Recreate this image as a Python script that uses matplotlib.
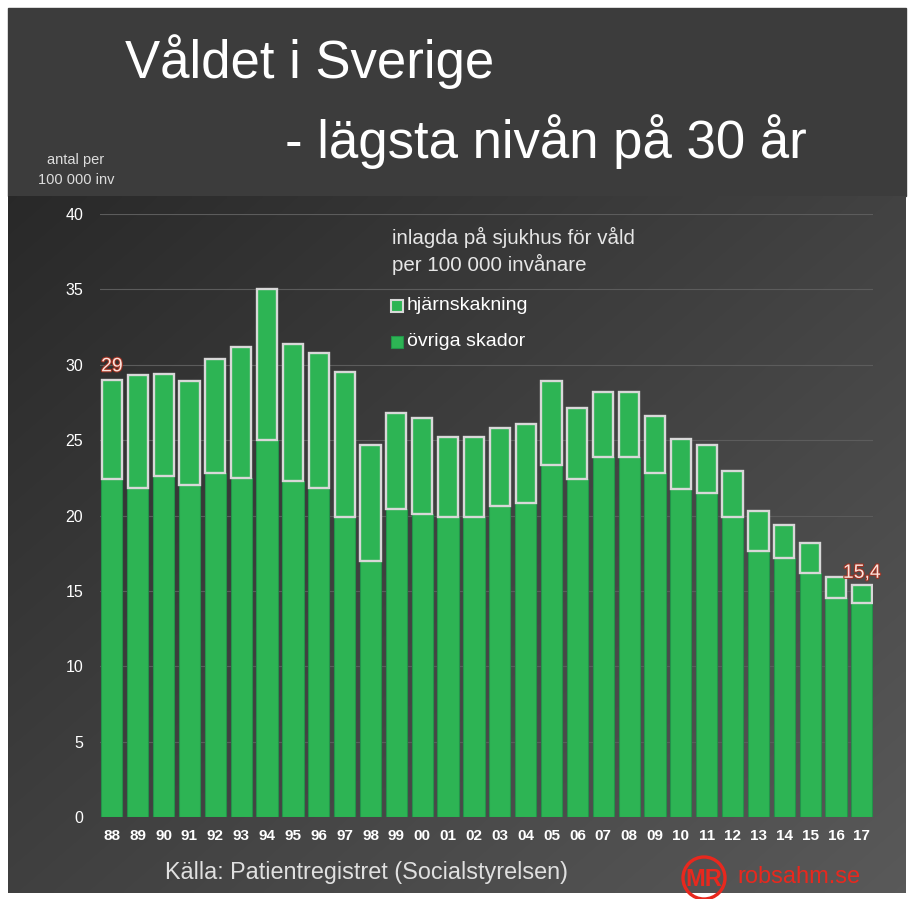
import numpy as np
import matplotlib
matplotlib.use("Agg")
import matplotlib.pyplot as plt
from matplotlib.patches import Rectangle, Circle
import matplotlib.patheffects as pe

plt.rcParams['font.family'] = ['Liberation Sans', 'DejaVu Sans']

years = ['88', '89', '90', '91', '92', '93', '94', '95', '96', '97', '98', '99',
         '00', '01', '02', '03', '04', '05', '06', '07', '08', '09', '10', '11',
         '12', '13', '14', '15', '16', '17']
total = [29.0, 29.3, 29.4, 28.9, 30.4, 31.2, 35.0, 31.4, 30.8, 29.5, 24.7, 26.8,
         26.5, 25.2, 25.2, 25.8, 26.1, 28.9, 27.1, 28.2, 28.2, 26.6, 25.1, 24.7,
         22.95, 20.3, 19.35, 18.15, 15.9, 15.4]
ovriga = [22.4, 21.8, 22.6, 22.0, 22.8, 22.5, 25.0, 22.3, 21.8, 19.9, 17.0, 20.4,
          20.1, 19.9, 19.9, 20.6, 20.8, 23.35, 22.45, 23.9, 23.9, 22.85, 21.75, 21.5,
          19.9, 17.65, 17.2, 16.2, 14.5, 14.2]
hjarn = [t - o for t, o in zip(total, ovriga)]
yticks = [0, 5, 10, 15, 20, 25, 30, 35, 40]

W, H = 914, 899
fig = plt.figure(figsize=(W / 100, H / 100), dpi=100)
fig.patch.set_facecolor('white')

bg = fig.add_axes([0, 0, 1, 1])
bg.set_xlim(0, W)
bg.set_ylim(H, 0)
bg.axis('off')
# title band
bg.add_patch(Rectangle((8, 8), 898, 188, color='#3c3c3c', zorder=1))
# gradient chart area
gx = np.linspace(0, 1, 200)
gy = np.linspace(0, 1, 200)
GX, GY = np.meshgrid(gx, gy)
val = 0.16 + 0.09 * GY + 0.10 * GX
val = np.clip(val, 0, 1)
img = np.dstack([val, val, val])
bg.imshow(img, extent=(8, 906, 893, 196), aspect='auto', zorder=1, interpolation='bilinear')

# titles
bg.text(125, 62, 'Våldet i Sverige', color='white', fontsize=38, va='center', ha='left', zorder=3)
bg.text(285, 142, '- lägsta nivån på 30 år', color='white', fontsize=38, va='center', ha='left', zorder=3)
bg.text(76, 170, 'antal per\n100 000 inv', color='#dddddd', fontsize=10.5, va='center', ha='center',
        linespacing=1.5, zorder=3)

# main axes
x0, x1 = 100, 873
y0, y1 = 214, 817
ax = fig.add_axes([x0 / W, 1 - y1 / H, (x1 - x0) / W, (y1 - y0) / H])
ax.set_facecolor('none')
x = np.arange(len(years))
green = '#2db454'
ax.bar(x, ovriga, width=0.82, color=green, edgecolor='#23924a', linewidth=0.8, zorder=3)
ax.bar(x, hjarn, bottom=ovriga, width=0.78, color=green, edgecolor='#d8d8d8', linewidth=1.7, zorder=4)

ax.set_xlim(-0.46, 29.43)
ax.set_ylim(0, 40)
ax.set_yticks(yticks)
ax.set_yticklabels([str(v) for v in yticks])
ax.set_xticks(x)
ax.set_xticklabels(years)
for s in ax.spines.values():
    s.set_visible(False)
ax.tick_params(axis='y', length=0, colors='white', labelsize=11.5, pad=12)
ax.tick_params(axis='x', length=0, colors='white', labelsize=11, pad=9)
for lab in ax.get_xticklabels():
    lab.set_fontweight('bold')
ax.grid(axis='y', color='#5c5c5c', linewidth=0.8, zorder=0)
ax.set_axisbelow(True)

outline = [pe.withStroke(linewidth=1.5, foreground='#a03020')]
ax.text(0, total[0] + 0.3, '29', color='#fbe3dc', fontsize=14, ha='center', va='bottom',
        path_effects=outline, zorder=5)
ax.text(29, total[-1] + 0.2, '15,4', color='#fbe3dc', fontsize=14, ha='center', va='bottom',
        path_effects=outline, zorder=5)

# legend
bg.text(392, 237, 'inlagda på sjukhus för våld', color='#e6e6e6', fontsize=14.8, va='center', zorder=3)
bg.text(392, 264, 'per 100 000 invånare', color='#e6e6e6', fontsize=14.8, va='center', zorder=3)
bg.add_patch(Rectangle((391, 300), 12, 12, facecolor=green, edgecolor='#d8d8d8', linewidth=1.5, zorder=3))
bg.text(407, 306, 'hjärnskakning', color='white', fontsize=14, va='center', zorder=3)
bg.add_patch(Rectangle((391, 336), 12, 12, facecolor=green, edgecolor='#23924a', linewidth=0.8, zorder=3))
bg.text(407, 342, 'övriga skador', color='white', fontsize=14, va='center', zorder=3)

# source and logo
bg.text(165, 873, 'Källa: Patientregistret (Socialstyrelsen)', color='#e0e0e0', fontsize=16.8,
        va='center', zorder=3)
bg.add_patch(Circle((704, 878), 21, facecolor='none', edgecolor='#e8281e', linewidth=2.4, zorder=3))
bg.text(704, 879, 'MR', color='#e8281e', fontsize=17, fontweight='bold', ha='center', va='center', zorder=3)
bg.text(737, 877, 'robsahm.se', color='#e8281e', fontsize=17, ha='left', va='center', zorder=3)

fig.savefig('out.png', dpi=100, facecolor='white')
